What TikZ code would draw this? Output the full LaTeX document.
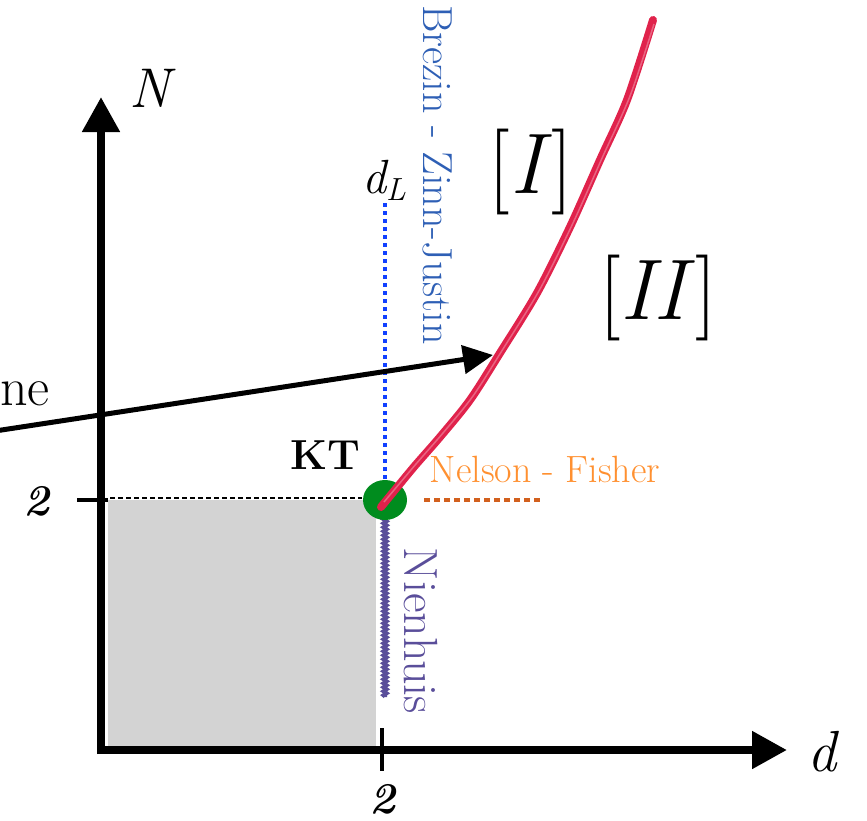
\documentclass[tikz,border=0pt]{standalone}
\usepackage{fontspec}
\usetikzlibrary{arrows.meta,decorations.pathmorphing}
\definecolor{bzblue}{HTML}{2E5FB5}
\definecolor{dotblue}{HTML}{1040FF}
\definecolor{nforange}{HTML}{FF9030}
\definecolor{nfdot}{HTML}{D2601E}
\definecolor{nhpurple}{HTML}{5A4E9A}
\definecolor{ktgreen}{HTML}{008C1E}
\definecolor{critred}{HTML}{E0224B}
\definecolor{regiongray}{HTML}{D3D3D3}
\tikzset{
  axisline/.style={line width=8pt,-{Triangle[length=35pt,width=36pt]}},
  tickline/.style={line width=4pt},
  lbl/.style={inner sep=0pt,outer sep=0pt},
}
\begin{document}
\begin{tikzpicture}[x=1pt,y=-1pt]
\useasboundingbox (0,0) rectangle (867,820);
% region
\fill[regiongray] (108,500) rectangle (376,750);
% axes
\coordinate (O) at (101,750);
\coordinate (ytip) at (101,97);
\coordinate (xtip) at (787,750);
\draw[axisline] (101,754) -- (ytip);
\draw[axisline] (97,750) -- (xtip);
\node[lbl,font=\fontsize{56}{60}\selectfont\itshape] (Nlab) at (150,88) {N};
\node[lbl,font=\fontsize{58}{62}\selectfont\itshape] (dlab) at (822,752) {d};
% ticks
\coordinate (ty1) at (77,500);
\coordinate (ty2) at (108,500);
\draw[tickline] (ty1) -- (ty2);
\coordinate (tx1) at (382,728);
\coordinate (tx2) at (382,771);
\draw[tickline] (tx1) -- (tx2);
\node[lbl,font=\fontsize{44}{48}\selectfont\bfseries\itshape] (two1) at (37,501) {2};
\node[lbl,anchor=base,font=\fontsize{44}{48}\selectfont\bfseries\itshape] (two2) at (382,813) {2};
% dashed black
\coordinate (db1) at (110,498);
\coordinate (db2) at (362,498);
\draw[line width=2pt,dash pattern=on 5pt off 3pt] (db1) -- (db2);
% blue dotted d_L
\coordinate (bl1) at (385,203);
\coordinate (bl2) at (385,490);
\draw[dotblue,line width=4pt,dash pattern=on 4pt off 4pt] (bl1) -- (bl2);
\node[lbl,font=\fontsize{48}{52}\selectfont\itshape] (dL) at (384,180) {d\raisebox{-7pt}{\fontsize{32}{34}\selectfont L}};
\node[lbl,rotate=-90,text=bzblue,font=\fontsize{42}{46}\selectfont] (bzj) at (438,175) {Brezin - Zinn-Justin};
% orange dotted
\coordinate (or1) at (424,500);
\coordinate (or2) at (543,500);
\draw[nfdot,line width=4pt,dash pattern=on 6pt off 4pt] (or1) -- (or2);
\node[lbl,text=nforange,font=\fontsize{38}{42}\selectfont] (nf) at (545,469) {Nelson - Fisher};
% Nienhuis
\coordinate (nh1) at (385,516);
\coordinate (nh2) at (385,697);
\draw[nhpurple,line width=4pt,decorate,decoration={snake,amplitude=1.5pt,segment length=4pt}] (nh1) -- (nh2);
\node[lbl,rotate=-90,text=nhpurple,font=\fontsize{48}{52}\selectfont] (nhl) at (421,631) {Nienhuis};
% line arrow
\coordinate (la1) at (-5,431);
\coordinate (la2) at (493,355);
\draw[line width=5pt,-{Triangle[length=30pt,width=28pt]}] (la1) -- (la2);
\node[lbl,anchor=base west,font=\fontsize{54}{58}\selectfont] (ne) at (0,405) {ne};
% green point
\fill[ktgreen] (385,500) ellipse (22pt and 20pt);
\coordinate (KTpt) at (385,500);
% red curve
\draw[critred,line width=8pt,line cap=round] plot[smooth,tension=0.5] coordinates {(381,507) (413,468) (440,437) (470,400) (500,353) (537,293) (570,227) (600,160) (627,100) (653,20)};
\draw[critred!70!white,line width=1.5pt] plot[smooth,tension=0.5] coordinates {(384,502) (416,464) (443,433) (473,396) (503,349) (540,289) (573,223) (603,156) (630,96) (654,24)};
\node[lbl,font=\fontsize{42}{46}\selectfont\bfseries] (KT) at (325,455) {KT};
% regions
\node[lbl,font=\fontsize{86}{90}\selectfont] (I) at (531,172) {[\textit{I}]};
\node[lbl,font=\fontsize{86}{90}\selectfont] (II) at (658,298) {[\textit{II}]};
\end{tikzpicture}
\end{document}
